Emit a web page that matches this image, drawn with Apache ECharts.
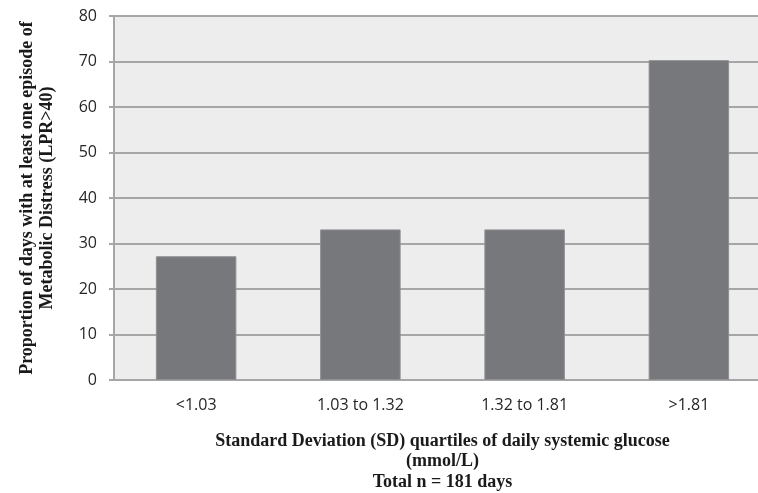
<!DOCTYPE html>
<html><head><meta charset="utf-8">
<script src="https://cdn.jsdelivr.net/npm/echarts@6/dist/echarts.min.js"></script>
<style>html,body{margin:0;padding:0;background:#fff;overflow:hidden;width:758px;height:493px}#c{width:771px;height:493px}</style>
</head><body><div id="c"></div>
<script>
const categories = ['<1.03', '1.03 to 1.32', '1.32 to 1.81', '>1.81'];
const values = [27.2, 33.1, 33.1, 70.3];
const yTicks = {min: 0, max: 80, interval: 10};
const xTitle = 'Standard Deviation (SD) quartiles of daily systemic glucose\n(mmol/L)\nTotal n = 181 days';
const yTitle = 'Proportion of days with at least one episode of\nMetabolic Distress (LPR>40)';

const chart = echarts.init(document.getElementById('c'), null, {renderer: 'canvas'});
chart.setOption({
  animation: false,
  grid: {left: 114, right: 0, top: 16, bottom: 113, show: true, backgroundColor: '#ededed', borderWidth: 0, containLabel: false, outerBoundsMode: 'none'},
  xAxis: {
    type: 'category', data: categories,
    axisLine: {lineStyle: {color: '#a6a6a6', width: 2}},
    axisTick: {show: false},
    axisLabel: {color: '#262626', fontSize: 16, fontFamily: 'Open Sans', margin: 17},
    name: xTitle, nameLocation: 'middle', nameGap: 51,
    nameTextStyle: {fontFamily: 'Liberation Serif', fontWeight: 'bold', fontSize: 18, color: '#1a1a1a', lineHeight: 20.5, verticalAlign: 'top'}
  },
  yAxis: {
    type: 'value', min: yTicks.min, max: yTicks.max, interval: yTicks.interval,
    axisLine: {show: true, lineStyle: {color: '#a6a6a6', width: 2}},
    axisTick: {show: true, length: 5, lineStyle: {color: '#a6a6a6', width: 2}},
    splitLine: {lineStyle: {color: '#a6a6a6', width: 2}},
    axisLabel: {color: '#262626', fontSize: 16, fontFamily: 'Open Sans', margin: 17},
    name: yTitle, nameLocation: 'middle', nameGap: 57, nameRotate: 90,
    nameTextStyle: {fontFamily: 'Liberation Serif', fontWeight: 'bold', fontSize: 18, color: '#1a1a1a', lineHeight: 20}
  },
  series: [{
    type: 'bar', data: values, barWidth: '49%',
    itemStyle: {color: '#77787b', borderColor: '#8e8f91', borderWidth: 1}
  }]
});
</script></body></html>
